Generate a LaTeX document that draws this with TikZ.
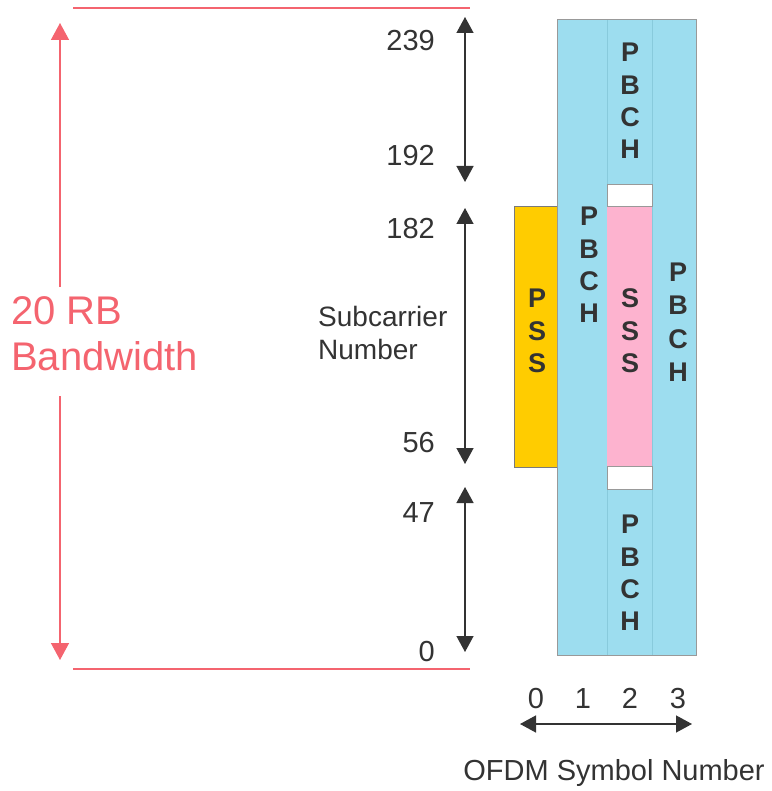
\documentclass[tikz,border=0pt]{standalone}
\usepackage{fontspec}
\setmainfont{Liberation Sans}
\usetikzlibrary{arrows.meta}
\definecolor{cblue}{HTML}{9DDDEF}
\definecolor{cdiv}{HTML}{88CADC}
\definecolor{cpink}{HTML}{FDB3CF}
\definecolor{cyel}{HTML}{FFCC00}
\definecolor{cred}{HTML}{F4646F}
\definecolor{ctext}{HTML}{333333}
\definecolor{cborder}{HTML}{999999}
\tikzset{
  blk/.style={draw=cborder, line width=1pt, inner sep=0pt, outer sep=0pt},
  num/.style={text=ctext, font=\fontsize{29}{30}\selectfont, inner sep=0pt, anchor=base east},
  lbl/.style={text=ctext, font=\fontsize{28}{33}\selectfont, inner sep=0pt},
  vtxt/.style={text=ctext, font=\fontsize{27}{32.3}\selectfont\bfseries, inner sep=0pt, align=center},
  darr/.style={draw=ctext, line width=1.4pt, {Triangle[width=17pt,length=16pt]}-{Triangle[width=17pt,length=16pt]}},
  rarr/.style={draw=cred, line width=1.5pt, -{Triangle[width=18pt,length=17pt]}},
  rline/.style={draw=cred, line width=1.5pt}
}
\begin{document}
\begin{tikzpicture}[x=1pt,y=-1pt]
\useasboundingbox (0,0) rectangle (771,791);
% PSS yellow
\node[blk, draw=cborder!80!black, fill=cyel, minimum width=43pt, minimum height=260pt] (pss) at (535.5,337) {};
% blue block
\node[blk, fill=cblue, minimum width=139pt, minimum height=635pt] (blue) at (626.5,337.5) {};
\draw[cdiv, line width=0.8pt] (607,20) -- (607,655);
\draw[cdiv, line width=0.8pt] (652,20) -- (652,655);
% white and pink
\node[blk, fill=white, minimum width=45pt, minimum height=22pt] (wtop) at (629.5,196) {};
\node[blk, draw=none, fill=cpink, minimum width=45pt, minimum height=258pt] (sss) at (629.5,336.5) {};
\node[blk, fill=white, minimum width=45pt, minimum height=23pt] (wbot) at (629.5,477.5) {};
% column texts
\node[vtxt] (t1) at (630,101) {P\\B\\C\\H};
\node[vtxt] (t2) at (589,265) {P\\B\\C\\H};
\node[vtxt, font=\fontsize{27}{33.5}\selectfont\bfseries] (t3) at (678,322) {P\\B\\C\\H};
\node[vtxt] (t4) at (630,573) {P\\B\\C\\H};
\node[vtxt] (t5) at (630,331) {S\\S\\S};
\node[vtxt] (t6) at (537,331) {P\\S\\S};
% red bandwidth
\coordinate (rt1) at (73,8);
\coordinate (rt2) at (470,8);
\coordinate (rb1) at (73,669);
\coordinate (rb2) at (470,669);
\draw[rline] (rt1) -- (rt2);
\draw[rline] (rb1) -- (rb2);
\coordinate (ra1) at (60,287);
\coordinate (ra2) at (60,23);
\coordinate (ra3) at (60,396);
\coordinate (ra4) at (60,660);
\draw[rarr] (ra1) -- (ra2);
\draw[rarr] (ra3) -- (ra4);
\node[text=cred, font=\fontsize{40}{46}\selectfont, inner sep=0pt, anchor=base west] (rb) at (11,324) {20 RB};
\node[text=cred, font=\fontsize{40}{46}\selectfont, inner sep=0pt, anchor=base west] (bw) at (11,370) {Bandwidth};
% subcarrier numbers
\node[num] (n239) at (435,51) {239};
\node[num] (n192) at (435,166) {192};
\node[num] (n182) at (435,239) {182};
\node[num] (n56) at (435,452) {56};
\node[num] (n47) at (435,522) {47};
\node[num] (n0) at (435,661) {0};
\node[lbl, anchor=base west] (sc) at (318,326) {Subcarrier};
\node[lbl, anchor=base west] (nb) at (318,359) {Number};
% black arrows
\coordinate (a1) at (465,17);
\coordinate (a2) at (465,182);
\coordinate (a3) at (465,208);
\coordinate (a4) at (465,464);
\coordinate (a5) at (465,487);
\coordinate (a6) at (465,652);
\draw[darr] (a1) -- (a2);
\draw[darr] (a3) -- (a4);
\draw[darr] (a5) -- (a6);
% OFDM axis
\node[num, anchor=base] (s0) at (536,708) {0};
\node[num, anchor=base] (s1) at (583,708) {1};
\node[num, anchor=base] (s2) at (630,708) {2};
\node[num, anchor=base] (s3) at (678,708) {3};
\coordinate (h1) at (520,724);
\coordinate (h2) at (692,724);
\draw[darr] (h1) -- (h2);
\node[lbl, font=\fontsize{29}{33}\selectfont, anchor=base] (ofdm) at (614,780) {OFDM Symbol Number};
\end{tikzpicture}
\end{document}
